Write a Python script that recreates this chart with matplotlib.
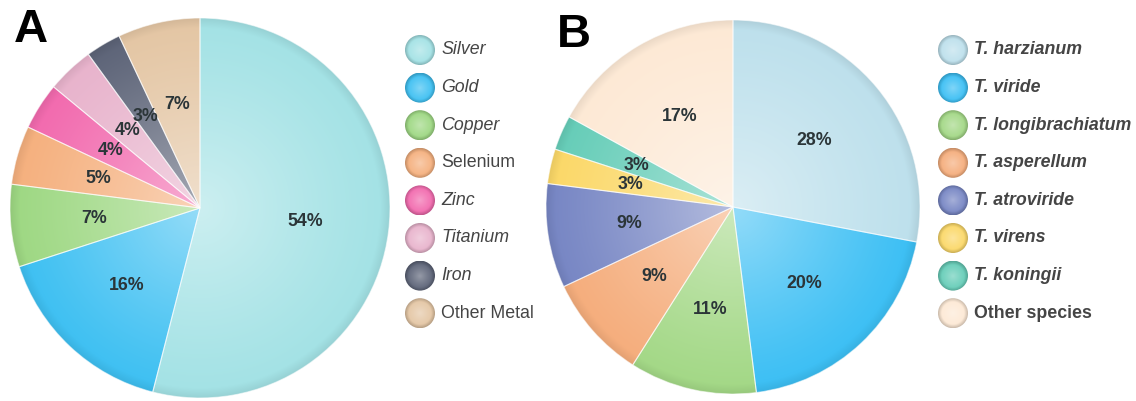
import numpy as np
import matplotlib
matplotlib.use('Agg')
import matplotlib.pyplot as plt
from matplotlib.colors import to_rgb
from matplotlib.patches import Circle

plt.rcParams['font.family'] = ['Liberation Sans', 'DejaVu Sans']

# ── Panel A: metals ─────────────────────────────────────────────────────
metals = ['Silver', 'Gold', 'Copper', 'Selenium', 'Zinc', 'Titanium', 'Iron', 'Other Metal']
metal_pct = [54, 16, 7, 5, 4, 4, 3, 7]
metal_colors = ['#a3e2e5', '#3ec0f2', '#9ed883', '#f5b07e', '#f26aae',
                '#e8b3cc', '#5d6478', '#e4c6a4']
metal_italic = [True, True, True, False, True, True, True, False]

# ── Panel B: Trichoderma species ────────────────────────────────────────
species = ['T. harzianum', 'T. viride', 'T. longibrachiatum', 'T. asperellum',
           'T. atroviride', 'T. virens', 'T. koningii', 'Other species']
species_pct = [28, 20, 11, 9, 9, 3, 3, 17]
species_colors = ['#bde0ec', '#3cbff4', '#a3d886', '#f5ad7c', '#7786c4',
                  '#fbd868', '#66cdb8', '#fde9d5']
species_italic = [True, True, True, True, True, True, True, False]

W, H = 1136, 401


def radial_rgba(color, n=300, light=0.45, rim=0.07, rim_start=0.95):
    """Radial gradient: lighter centre, slightly darker rim."""
    y, x = np.mgrid[-1:1:n * 1j, -1:1:n * 1j]
    r = np.clip(np.hypot(x, y), 0, 1)
    base = np.array(to_rgb(color))
    mix = light * (1 - r) ** 1.2
    rgb = base + (1 - base) * mix[..., None]
    dark = np.where(r > rim_start, rim * (r - rim_start) / (1 - rim_start), 0)
    rgb = rgb * (1 - dark[..., None])
    return np.dstack([np.clip(rgb, 0, 1), np.ones_like(r)])


def draw_pie(ax, values, colors):
    wedges, _, autotexts = ax.pie(
        values, colors=colors, startangle=90, counterclock=False,
        autopct=lambda p: f'{p:.0f}%', pctdistance=0.56, radius=1,
        wedgeprops=dict(linewidth=0.8, edgecolor=(1, 1, 1, 0.55)),
        textprops=dict(fontsize=12.8, fontweight='bold', color='#2b3538'))
    for w, c in zip(wedges, colors):
        im = ax.imshow(radial_rgba(c), extent=[-1, 1, -1, 1], origin='lower',
                       zorder=1.5, interpolation='bilinear')
        im.set_clip_path(w)
        w.set_facecolor('none')
        w.set_zorder(2)
    for t in autotexts:
        t.set_zorder(4)
    ax.set_xlim(-1, 1)
    ax.set_ylim(-1, 1)
    ax.set_aspect('equal')
    ax.axis('off')


def draw_legend(ax, labels, colors, italic, cx, tx, bold):
    for i, (lab, c, it) in enumerate(zip(labels, colors, italic)):
        cy = 50 + 37.6 * i
        r = 15
        circ = Circle((cx, cy), r, facecolor='none', edgecolor='none')
        ax.add_patch(circ)
        im = ax.imshow(radial_rgba(c, light=0.35, rim=0.2, rim_start=0.75),
                       extent=[cx - r, cx + r, cy + r, cy - r], aspect='auto',
                       interpolation='bilinear', zorder=2)
        im.set_clip_path(circ)
        ax.text(tx, cy, lab, fontsize=12.8, color='#454545', va='center', ha='left',
                style='italic' if it else 'normal',
                fontweight='bold' if bold else 'normal')


fig = plt.figure(figsize=(W / 100, H / 100), dpi=100)

axA = fig.add_axes([(200 - 190) / W, (H - 208 - 190) / H, 380 / W, 380 / H])
draw_pie(axA, metal_pct, metal_colors)

axB = fig.add_axes([(733 - 187) / W, (H - 207 - 187) / H, 374 / W, 374 / H])
draw_pie(axB, species_pct, species_colors)

over = fig.add_axes([0, 0, 1, 1])
draw_legend(over, metals, metal_colors, metal_italic, 420, 441, bold=False)
draw_legend(over, species, species_colors, species_italic, 953, 974, bold=True)
over.text(14, 30, 'A', fontsize=34, fontweight='bold', va='center', ha='left', color='black')
over.text(557, 35, 'B', fontsize=34, fontweight='bold', va='center', ha='left', color='black')
over.set_xlim(0, W)
over.set_ylim(H, 0)
over.axis('off')

fig.savefig('out.png', dpi=100)
